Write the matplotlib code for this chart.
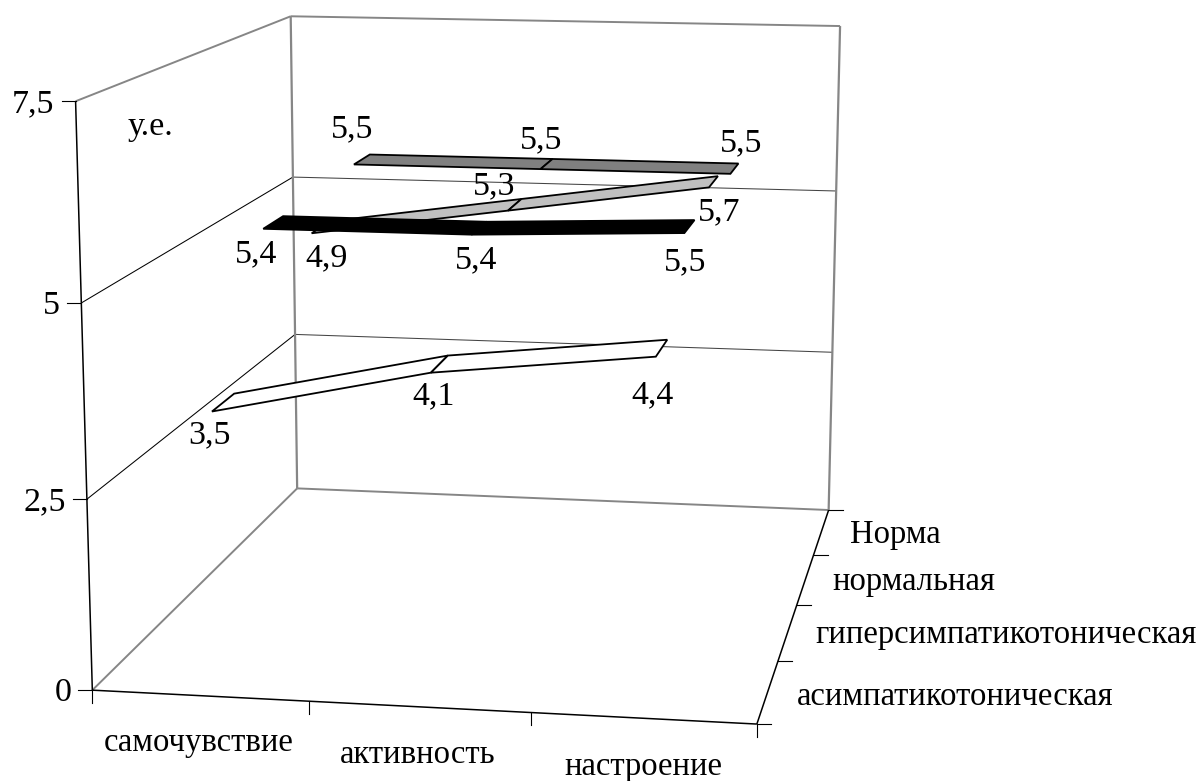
import matplotlib
matplotlib.use("Agg")
import matplotlib.pyplot as plt
from matplotlib.patches import Polygon
import numpy as np

plt.rcParams['font.family'] = ['Liberation Serif', 'DejaVu Serif']

categories = ['самочувствие', 'активность', 'настроение']
series_names = ['асимпатикотоническая', 'гиперсимпатикотоническая', 'нормальная', 'Норма']
asimp = [3.5, 4.1, 4.4]
gipers = [5.4, 5.4, 5.5]
normal = [4.9, 5.3, 5.7]
norma = [5.5, 5.5, 5.5]
value_ticks = [0, 2.5, 5, 7.5]

series = [asimp, gipers, normal, norma]
face_colors = ['white', 'black', '#c0c0c0', '#808080']
half_depth = 0.2
fs = 24.5
fs_names = 23.5

# box corners as seen in the picture: (cat, depth, value) -> (px, py)
calib = [
    (0, 0, 0, 92.5, 690), (0, 0, 2.5, 87.3, 498.3), (0, 0, 5, 81.7, 302.3), (0, 0, 7.5, 74.7, 102.3),
    (0, 4, 0, 297.3, 488.7), (0, 4, 2.5, 295, 335), (0, 4, 5, 292.7, 176.7), (0, 4, 7.5, 291, 16),
    (3, 4, 0, 828.3, 510), (3, 4, 2.5, 832.3, 352), (3, 4, 5, 836.7, 190.3), (3, 4, 7.5, 840, 26.7),
    (3, 0, 0, 756.7, 724), (1, 0, 0, 308.3, 701.7), (2, 0, 0, 531.3, 712.7),
    (3, 1, 0, 778.7, 660.7), (3, 2, 0, 796.7, 604.7), (3, 3, 0, 813.3, 554.7),
]

A = []
b = []
for c, d, v, px, py in calib:
    A.append([c, d, v, 1, 0, 0, 0, 0, -px * c, -px * d, -px * v])
    A.append([0, 0, 0, 0, c, d, v, 1, -py * c, -py * d, -py * v])
    b += [px, py]
sol = np.linalg.lstsq(np.array(A, float), np.array(b, float), rcond=None)[0]
P = np.append(sol, 1.0).reshape(3, 4)


def proj(c, d, v):
    h = P @ np.array([c, d, v, 1.0])
    return h[0] / h[2], h[1] / h[2]


fig = plt.figure(figsize=(12.02, 7.81), dpi=100)
ax = fig.add_axes([0, 0, 1, 1])
ax.set_xlim(0, 1202)
ax.set_ylim(781, 0)
ax.axis('off')


def line(p, q, color='black', lw=0.8, z=1):
    a = proj(*p)
    e = proj(*q)
    ax.plot([a[0], e[0]], [a[1], e[1]], color=color, lw=lw, zorder=z, solid_capstyle='butt')


# walls and floor
gray = '#868686'
for v in value_ticks[1:3]:
    line((0, 0, v), (0, 4, v), color='black', lw=0.75)
    line((0, 4, v), (3, 4, v), color='#444444', lw=0.75)
line((0, 0, 7.5), (0, 4, 7.5), color=gray, lw=1.4)
line((0, 4, 7.5), (3, 4, 7.5), color=gray, lw=1.4)
line((0, 0, 0), (0, 4, 0), color=gray, lw=1.4)
line((0, 4, 0), (3, 4, 0), color=gray, lw=1.4)
line((0, 4, 0), (0, 4, 7.5), color=gray, lw=1.6)
line((3, 4, 0), (3, 4, 7.5), color=gray, lw=1.6)

# axes
line((0, 0, 0), (0, 0, 7.5), lw=1.1, z=2)
line((0, 0, 0), (3, 0, 0), lw=1.1, z=2)
line((3, 0, 0), (3, 4, 0), lw=1.1, z=2)

for v in value_ticks:
    x, y = proj(0, 0, v)
    ax.plot([x - 14, x], [y, y], color='black', lw=0.8)
    label = str(v).replace('.', ',')
    ax.text(x - 21, y + 3, label, ha='right', va='center', fontsize=fs)
for c in range(4):
    x, y = proj(c, 0, 0)
    ax.plot([x, x], [y, y + 12.5], color='black', lw=0.8)
for d in range(5):
    x, y = proj(3, d, 0)
    ax.plot([x, x + 14], [y, y], color='black', lw=0.8)

# x and depth labels
cat_pos = [(199, 743), (418, 755), (643, 767)]
for name, (x, y) in zip(categories, cat_pos):
    ax.text(x, y, name, ha='center', va='center', fontsize=fs_names)
ser_pos = [(955, 697), (1006, 635), (914, 582), (895, 535)]
for name, (x, y) in zip(series_names, ser_pos):
    ax.text(x, y, name, ha='center', va='center', fontsize=fs_names)

ax.text(150, 127, 'у.е.', ha='center', va='center', fontsize=fs)

# ribbons, back to front
for i in [3, 2, 1, 0]:
    vals = series[i]
    d0 = i + 0.5 - half_depth
    d1 = i + 0.5 + half_depth
    for j in range(2):
        c0 = j + 0.5
        c1 = j + 1.5
        pts = [proj(c0, d0, vals[j]), proj(c0, d1, vals[j]), proj(c1, d1, vals[j + 1]), proj(c1, d0, vals[j + 1])]
        ax.add_patch(Polygon(pts, closed=True, facecolor=face_colors[i], edgecolor='black',
                             lw=1.3, zorder=3 + (3 - i), joinstyle='miter'))

# data labels, moved by hand in the original
label_pos = [
    [(210, 433), (434, 394), (653, 393)],
    [(256, 252), (476, 258), (685, 260)],
    [(327, 256), (494, 184), (719, 210)],
    [(352, 127), (541, 138), (741, 141)],
]
for vals, pos in zip(series, label_pos):
    for v, (x, y) in zip(vals, pos):
        ax.text(x, y + 2, f'{v:.1f}'.replace('.', ','), ha='center', va='center', fontsize=fs, zorder=10)

fig.savefig('out.png', dpi=100)
